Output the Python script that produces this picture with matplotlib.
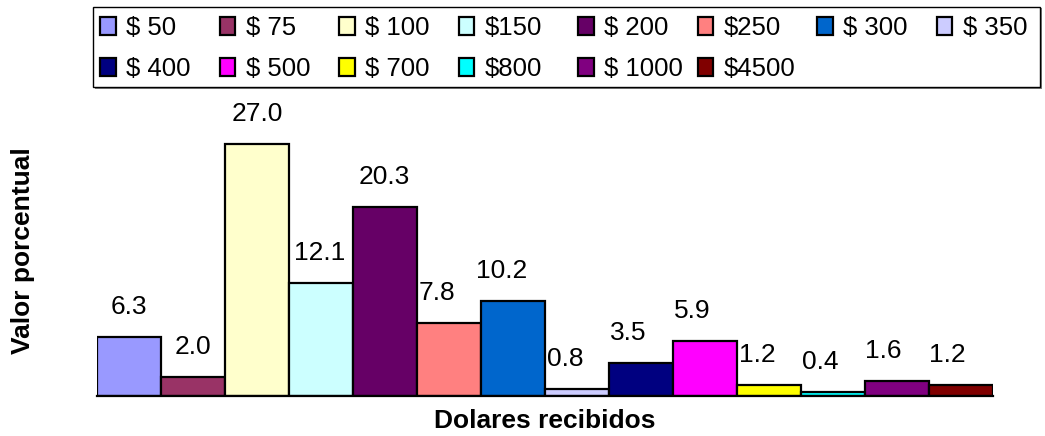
import matplotlib
matplotlib.use('Agg')
import matplotlib.pyplot as plt
from matplotlib.patches import Patch, Rectangle

plt.rcParams['font.family'] = ['Liberation Sans', 'DejaVu Sans']

# datos
categorias = ['$ 50', '$ 75', '$ 100', '$150', '$ 200', '$250', '$ 300', '$ 350',
              '$ 400', '$ 500', '$ 700', '$800', '$ 1000', '$4500']
valores = [6.3, 2.0, 27.0, 12.1, 20.3, 7.8, 10.2, 0.8, 3.5, 5.9, 1.2, 0.4, 1.6, 1.2]
colores = ['#9999FF', '#993366', '#FFFFCC', '#CCFFFF', '#660066', '#FF8080', '#0066CC',
           '#CCCCFF', '#000080', '#FF00FF', '#FFFF00', '#00FFFF', '#800080', '#800000']

# corrimiento horizontal de las etiquetas (pixeles)
label_dx = [0, 0, 0, -1, -1, -12, -11, -12, -13, -13, -12, -13, -14, -14]

W, H = 1045, 436
fig = plt.figure(figsize=(W / 100, H / 100), dpi=100)
ax = fig.add_axes([97 / W, 1 - 396 / H, 896 / W, 280 / H])

x = range(len(valores))
ax.bar(x, valores, width=1.0, color=colores, edgecolor='black', linewidth=1.6)
ax.set_xlim(-0.5, len(valores) - 0.5)
ax.set_ylim(0, 30)
for s in ['top', 'right', 'left']:
    ax.spines[s].set_visible(False)
ax.spines['bottom'].set_linewidth(1.6)
ax.set_xticks([])
ax.set_yticks([])

for i, v in enumerate(valores):  # etiquetas de valores
    ax.annotate('%.1f' % v, (i, v), xytext=(label_dx[i], 30), textcoords='offset pixels',
                ha='center', va='center', fontsize=19, annotation_clip=False)

fig.text(23.5 / W, 1 - 251 / H, 'Valor porcentual', rotation=90, ha='center', va='center',
         fontsize=19, fontweight='bold')
fig.text(545 / W, 1 - 420.5 / H, 'Dolares recibidos', ha='center', va='center',
         fontsize=19, fontweight='bold')

# marco de la leyenda con sombra
fig.patches.append(Rectangle((95 / W, 1 - 89 / H), 947 / W, 81 / H, transform=fig.transFigure,
                             facecolor='#808080', edgecolor='none', zorder=0))
fig.patches.append(Rectangle((93 / W, 1 - 87 / H), 947 / W, 80 / H, transform=fig.transFigure,
                             facecolor='white', edgecolor='black', linewidth=1, zorder=1))

# leyenda por columnas (ancho uniforme)
handles = [Patch(facecolor=c, edgecolor='black', linewidth=1.6) for c in colores]
for j in range(8):
    idx = [k for k in (j, j + 8) if k < len(categorias)]
    leg = fig.legend([handles[k] for k in idx], [categorias[k] for k in idx],
                     loc='upper left', bbox_to_anchor=((100 + 119.5 * j) / W, 1 - 16 / H),
                     frameon=False, fontsize=18.5, borderpad=0, borderaxespad=0,
                     handlelength=0.62, handleheight=0.72, handletextpad=0.4,
                     labelspacing=0.66)
    leg.set_zorder(2)

fig.savefig('out.png', dpi=100)
